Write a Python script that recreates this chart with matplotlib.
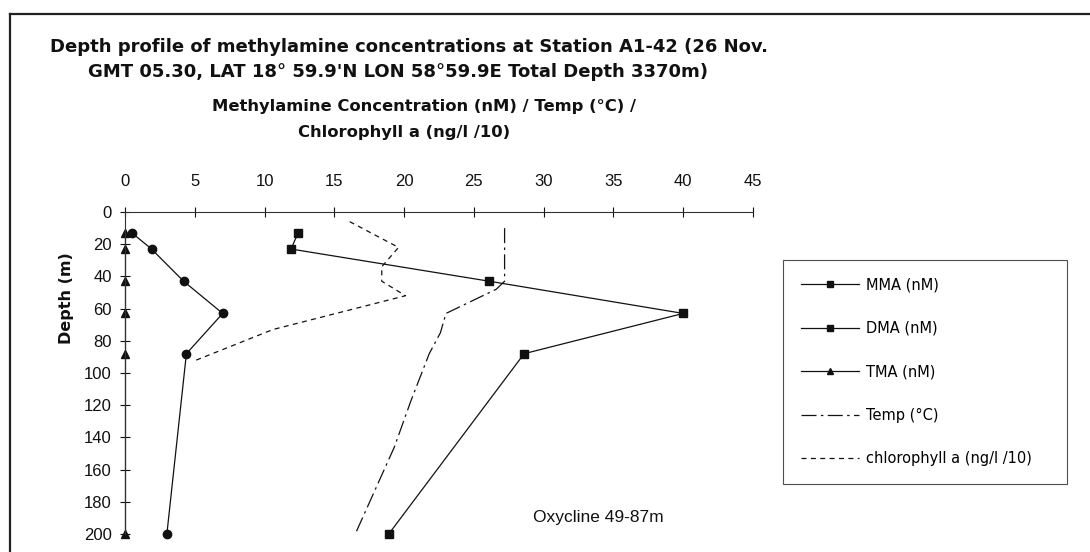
import matplotlib
matplotlib.use("Agg")
import matplotlib.pyplot as plt
from matplotlib.lines import Line2D

plt.rcParams['font.family'] = ['Liberation Sans', 'DejaVu Sans']

# Sampling depths (m) for the amine measurements
depth_amine = [13, 23, 43, 63, 88, 200]
mma = [0.5, 1.9, 4.2, 7.0, 4.4, 3.0]
dma = [12.4, 11.9, 26.1, 40.0, 28.6, 18.9]
tma = [0, 0, 0, 0, 0, 0]

# CTD temperature profile
depth_temp = [10, 43, 48, 63, 75, 88, 117, 146, 200]
temp = [27.2, 27.2, 26.6, 23.0, 22.6, 21.8, 20.5, 19.3, 16.5]

# Chlorophyll a (ng/l / 10)
depth_chl = [6, 22, 34, 43, 52, 73, 92]
chl = [16.1, 19.6, 18.4, 18.4, 20.1, 10.6, 5.1]

x_ticks = list(range(0, 50, 5))
y_ticks = list(range(0, 220, 20))

W, H = 1090, 552
fig = plt.figure(figsize=(W / 100, H / 100), dpi=100)

def fx(px):
    return px / W

def fy(py):
    return 1 - py / H

bold_font = ['DejaVu Sans']

# outer frame (left and top edges of the chart area)
fig.add_artist(Line2D([fx(10), fx(10)], [fy(14), 0], transform=fig.transFigure,
                      color='#222222', lw=1.6))
fig.add_artist(Line2D([fx(10), 1], [fy(14), fy(14)], transform=fig.transFigure,
                      color='#222222', lw=1.6))

ax = fig.add_axes([fx(125), fy(534), fx(753) - fx(125), fy(212) - fy(534)])
ax.set_xlim(0, 45)
ax.set_ylim(200, 0)

for s in ('bottom', 'right'):
    ax.spines[s].set_visible(False)
for s in ('top', 'left'):
    ax.spines[s].set_color('#333333')
    ax.spines[s].set_linewidth(0.8)

ax.xaxis.tick_top()
ax.set_xticks(x_ticks)
ax.set_yticks(y_ticks)
ax.tick_params(axis='x', direction='inout', length=7, width=0.8, pad=13,
               labelsize=12, colors='#111111')
ax.tick_params(axis='y', direction='inout', length=7, width=0.8, pad=6,
               labelsize=12, colors='#111111')

lc = '#111111'
temp_dash = [12, 3.5, 2, 3.5]
chl_dash = [4, 3.5]
ax.plot(mma, depth_amine, color=lc, lw=0.9, marker='o', ms=6, clip_on=False)
ax.plot(dma, depth_amine, color=lc, lw=0.9, marker='s', ms=5.5, clip_on=False)
ax.plot(tma, depth_amine, color=lc, lw=0.9, marker='^', ms=5.5, clip_on=False)
ax.plot(temp, depth_temp, color=lc, lw=0.9, dashes=temp_dash, clip_on=False)
ax.plot(chl, depth_chl, color=lc, lw=0.9, dashes=chl_dash, clip_on=False)

ax.text(29.2, 190, 'Oxycline 49-87m', fontsize=12.5, va='center', ha='left', color=lc)

# titles and axis captions
fig.text(fx(50), fy(47), 'Depth profile of methylamine concentrations at Station A1-42 (26 Nov.',
         fontsize=13, fontweight='bold', family=bold_font, va='center', ha='left', color=lc)
fig.text(fx(88), fy(72), "GMT 05.30, LAT 18\u00b0 59.9'N LON 58\u00b059.9E Total Depth 3370m)",
         fontsize=13, fontweight='bold', family=bold_font, va='center', ha='left', color=lc)
fig.text(fx(424), fy(107), 'Methylamine Concentration (nM) / Temp (\u00b0C) /',
         fontsize=11.8, fontweight='bold', family=bold_font, va='center', ha='center', color=lc)
fig.text(fx(404), fy(133), 'Chlorophyll a (ng/l /10)',
         fontsize=11.8, fontweight='bold', family=bold_font, va='center', ha='center', color=lc)
fig.text(fx(66), fy(298), 'Depth (m)', fontsize=11.5, fontweight='bold', family=bold_font,
         rotation=90, va='center', ha='center', color=lc)

handles = [
    Line2D([], [], color=lc, lw=0.9, marker='s', ms=4.5),
    Line2D([], [], color=lc, lw=0.9, marker='s', ms=4.5),
    Line2D([], [], color=lc, lw=0.9, marker='^', ms=4.5),
    Line2D([], [], color=lc, lw=0.9, dashes=temp_dash),
    Line2D([], [], color=lc, lw=0.9, dashes=chl_dash),
]
labels = ['MMA (nM)', 'DMA (nM)', 'TMA (nM)', 'Temp (\u00b0C)', 'chlorophyll a (ng/l /10)']
leg = fig.legend(handles, labels, loc='upper left',
                 bbox_to_anchor=(fx(783), fy(478), fx(1067) - fx(783), fy(260) - fy(478)),
                 mode='expand', borderaxespad=0, frameon=True, fancybox=False,
                 edgecolor='#222222', handlelength=4.0,
                 labelspacing=1.95, borderpad=1.2, handletextpad=0.5,
                 prop={'family': ['DejaVu Sans'], 'size': 10.5})
leg.get_frame().set_linewidth(0.8)

fig.savefig('out.png', dpi=100, facecolor='white')
